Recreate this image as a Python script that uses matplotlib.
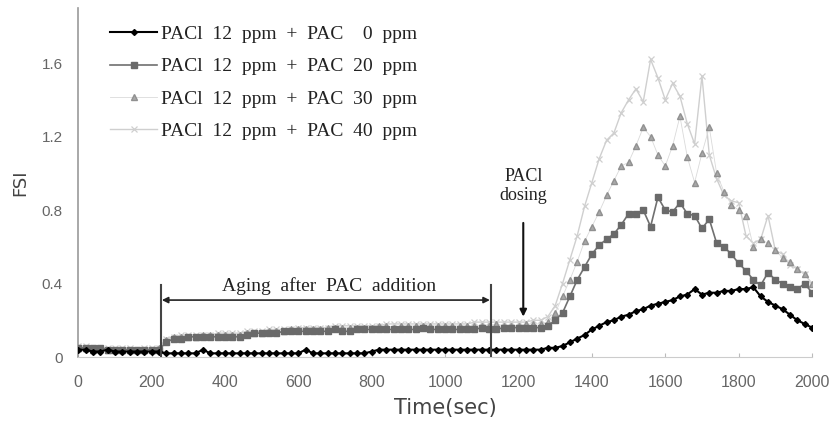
import numpy as np
import matplotlib
matplotlib.use("Agg")
import matplotlib.pyplot as plt

time_sec = np.arange(0, 2001, 20)

fsi_pac0 = [0.04,0.04,0.03,0.03,0.04,0.03,0.03,0.03,0.03,0.03,0.03,0.03,
            0.02,0.02,0.02,0.02,0.02,0.04,0.02,0.02,0.02,0.02,0.02,0.02,0.02,0.02,
            0.02,0.02,0.02,0.02,0.02,0.04,0.02,0.02,0.02,0.02,0.02,0.02,0.02,0.02,
            0.03,0.04,0.04,0.04,0.04,0.04,0.04,0.04,0.04,0.04,0.04,0.04,0.04,0.04,
            0.04,0.04,0.04,0.04,0.04,0.04,0.04,0.04,0.04,0.04,
            0.05,0.05,0.06,0.08,0.10,0.12,0.15,0.17,0.19,0.20,0.22,0.23,0.25,0.26,
            0.28,0.29,0.30,0.31,0.33,0.34,0.37,0.34,0.35,0.35,0.36,0.36,0.37,0.37,
            0.38,0.33,0.30,0.28,0.26,0.23,0.20,0.18,0.16]

fsi_pac20 = [0.05,0.05,0.05,0.05,0.04,0.04,0.04,0.04,0.04,0.04,0.04,0.04,
             0.08,0.10,0.10,0.11,0.11,0.11,0.11,0.11,0.11,0.11,0.11,0.12,0.13,0.13,
             0.13,0.13,0.14,0.14,0.14,0.14,0.14,0.14,0.14,0.15,0.14,0.14,0.15,0.15,
             0.15,0.15,0.15,0.15,0.15,0.15,0.15,0.16,0.15,0.15,0.15,0.15,0.15,0.15,
             0.15,0.16,0.15,0.15,0.16,0.16,0.16,0.16,0.16,0.16,
             0.17,0.20,0.24,0.33,0.42,0.49,0.56,0.61,0.64,0.67,0.72,0.78,0.78,0.80,
             0.71,0.87,0.80,0.79,0.84,0.78,0.77,0.70,0.75,0.62,0.60,0.56,0.51,0.47,
             0.42,0.39,0.46,0.42,0.40,0.38,0.37,0.40,0.35]

fsi_pac30 = [0.05,0.05,0.04,0.05,0.04,0.04,0.04,0.04,0.04,0.04,0.04,0.05,
             0.09,0.11,0.11,0.11,0.11,0.12,0.12,0.12,0.12,0.12,0.12,0.13,0.13,0.13,
             0.14,0.14,0.14,0.15,0.15,0.15,0.15,0.15,0.16,0.16,0.16,0.16,0.16,0.16,
             0.16,0.17,0.17,0.16,0.17,0.17,0.17,0.17,0.17,0.17,0.17,0.17,0.17,0.17,
             0.17,0.17,0.17,0.18,0.17,0.17,0.17,0.18,0.18,0.18,
             0.19,0.24,0.33,0.42,0.52,0.63,0.71,0.79,0.88,0.96,1.04,1.06,1.15,1.25,
             1.20,1.10,1.04,1.15,1.31,1.09,0.95,1.11,1.25,1.00,0.90,0.83,0.80,0.77,
             0.60,0.64,0.62,0.58,0.54,0.52,0.48,0.45,0.40]

fsi_pac40 = [0.06,0.06,0.05,0.05,0.05,0.05,0.05,0.05,0.04,0.05,0.05,0.05,
             0.10,0.11,0.12,0.12,0.12,0.12,0.12,0.13,0.13,0.13,0.13,0.14,0.14,0.14,
             0.15,0.15,0.15,0.15,0.16,0.16,0.16,0.16,0.16,0.17,0.17,0.17,0.17,0.17,
             0.17,0.17,0.18,0.18,0.18,0.18,0.18,0.18,0.18,0.18,0.18,0.18,0.18,0.18,
             0.19,0.19,0.19,0.19,0.19,0.19,0.19,0.19,0.20,0.20,
             0.22,0.28,0.40,0.53,0.66,0.82,0.95,1.08,1.18,1.22,1.33,1.40,1.46,1.39,
             1.62,1.52,1.40,1.49,1.42,1.27,1.16,1.53,1.10,0.97,0.88,0.85,0.84,0.66,
             0.62,0.64,0.77,0.58,0.56,0.50,0.48,0.45,0.40]

labels = ["PACl  12  ppm  +  PAC    0  ppm",
          "PACl  12  ppm  +  PAC  20  ppm",
          "PACl  12  ppm  +  PAC  30  ppm",
          "PACl  12  ppm  +  PAC  40  ppm"]

x_ticks = [0, 200, 400, 600, 800, 1000, 1200, 1400, 1600, 1800, 2000]
y_ticks = [0, 0.4, 0.8, 1.2, 1.6]
y_tick_labels = ["0", "0.4", "0.8", "1.2", "1.6"]

serif = "Liberation Serif"
sans = "Liberation Sans"

fig = plt.figure(figsize=(8.32, 4.23), dpi=100)
ax = fig.add_axes([0.094, 0.156, 0.882, 0.825])

ax.plot(time_sec, fsi_pac40, color="#cfcfcf", lw=1.0, marker="x", ms=4.5, mew=0.9,
        label=labels[3], zorder=2)
ax.plot(time_sec, fsi_pac30, color="#dadada", lw=0.6, marker="^", ms=4.5,
        mfc="#a8a8a8", mec="#909090", label=labels[2], zorder=3)
ax.plot(time_sec, fsi_pac20, color="#707070", lw=1.2, marker="s", ms=4.5,
        mfc="#6a6a6a", mec="#6a6a6a", label=labels[1], zorder=4)
ax.plot(time_sec, fsi_pac0, color="black", lw=1.5, marker="D", ms=3,
        label=labels[0], zorder=5)

ax.set_xlim(0, 2000)
ax.set_ylim(0, 1.9)
ax.set_xticks(x_ticks)
ax.set_xticklabels([str(t) for t in x_ticks], family=sans, fontsize=11.5, color="#666666")
ax.set_yticks(y_ticks)
ax.set_yticklabels(y_tick_labels, family=sans, fontsize=11, color="#666666")
ax.tick_params(axis="x", direction="in", length=3, color="#bbbbbb", pad=13)
ax.tick_params(axis="y", length=0, pad=11)
for s in ["top", "right"]:
    ax.spines[s].set_visible(False)
ax.spines["left"].set_color("#999999")
ax.spines["bottom"].set_color("#cccccc")
ax.spines["left"].set_linewidth(1.2)

ax.set_xlabel("Time(sec)", family="DejaVu Sans", fontsize=15, color="#444444", labelpad=6)
ax.set_ylabel("FSI", family="DejaVu Sans", fontsize=13, color="#444444", labelpad=9)

# annotations
ax.plot([225, 225], [-0.01, 0.39], color="#444444", lw=1.5, zorder=6)
ax.plot([1125, 1125], [-0.03, 0.39], color="#444444", lw=1.5, zorder=6)
ax.annotate("", xy=(228, 0.31), xytext=(1122, 0.31),
            arrowprops=dict(arrowstyle="<|-|>", color="#222222", lw=1.2,
                            mutation_scale=9, shrinkA=0, shrinkB=0), zorder=6)
ax.text(685, 0.335, "Aging  after  PAC  addition", family=serif, fontsize=14,
        ha="center", va="bottom", color="#222222")
ax.text(1213, 0.93, "PACl\ndosing", family=serif, fontsize=13, ha="center",
        va="center", color="#222222", linespacing=1.15)
ax.annotate("", xy=(1213, 0.22), xytext=(1213, 0.73),
            arrowprops=dict(arrowstyle="-|>", color="#111111", lw=1.5,
                            mutation_scale=10, shrinkA=0, shrinkB=0), zorder=6)

handles, lbls = ax.get_legend_handles_labels()
order = [3, 2, 1, 0]
leg = ax.legend([handles[i] for i in order], [lbls[i] for i in order],
                loc="upper left", bbox_to_anchor=(0.0436, 0.95), frameon=False,
                borderaxespad=0, borderpad=0,
                prop={"family": serif, "size": 14}, handlelength=2.4,
                labelspacing=0.76, handletextpad=0.2)
for t in leg.get_texts():
    t.set_color("#222222")

fig.savefig("out.png", dpi=100)
